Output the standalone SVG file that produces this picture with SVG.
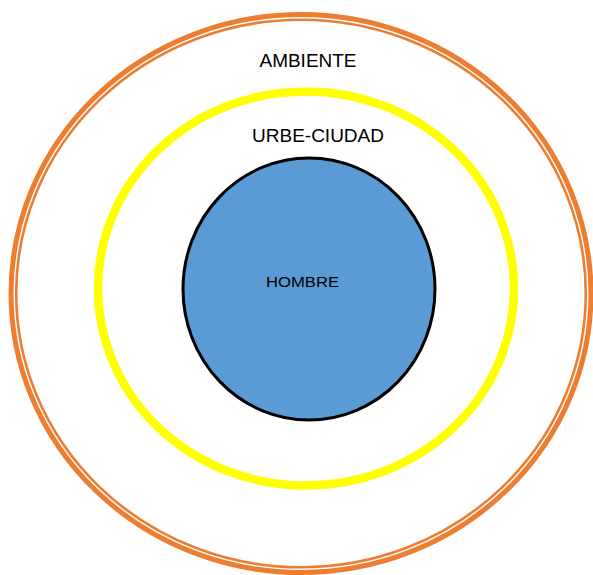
<svg xmlns="http://www.w3.org/2000/svg" width="593" height="575" viewBox="0 0 593 575">
<style>
.lbl{font-family:"Liberation Sans",Arial,sans-serif;text-anchor:middle;fill:#000}
</style>
<rect width="593" height="575" fill="#fff"/>
<g id="ambiente">
<ellipse cx="301" cy="293.5" rx="288" ry="277" fill="none" stroke="#ED7D31" stroke-width="9"/>
<ellipse cx="301" cy="293.5" rx="286.8" ry="275.8" fill="none" stroke="#fff" stroke-width="1.4"/>
<text class="lbl" x="308" y="67" font-size="18.6" textLength="97" lengthAdjust="spacingAndGlyphs">AMBIENTE</text>
</g>
<g id="urbe-ciudad">
<ellipse cx="306" cy="288.5" rx="208" ry="197" fill="none" stroke="#FFFF00" stroke-width="8.5"/>
<text class="lbl" x="318" y="142" font-size="18.6" textLength="132" lengthAdjust="spacingAndGlyphs">URBE-CIUDAD</text>
</g>
<g id="hombre">
<ellipse cx="309" cy="289" rx="126" ry="131" fill="#5B9BD5" stroke="#000" stroke-width="3"/>
<text class="lbl" x="302.5" y="287" font-size="14" fill="#111" textLength="73" lengthAdjust="spacingAndGlyphs">HOMBRE</text>
</g>
<g id="connectors"/>
</svg>
